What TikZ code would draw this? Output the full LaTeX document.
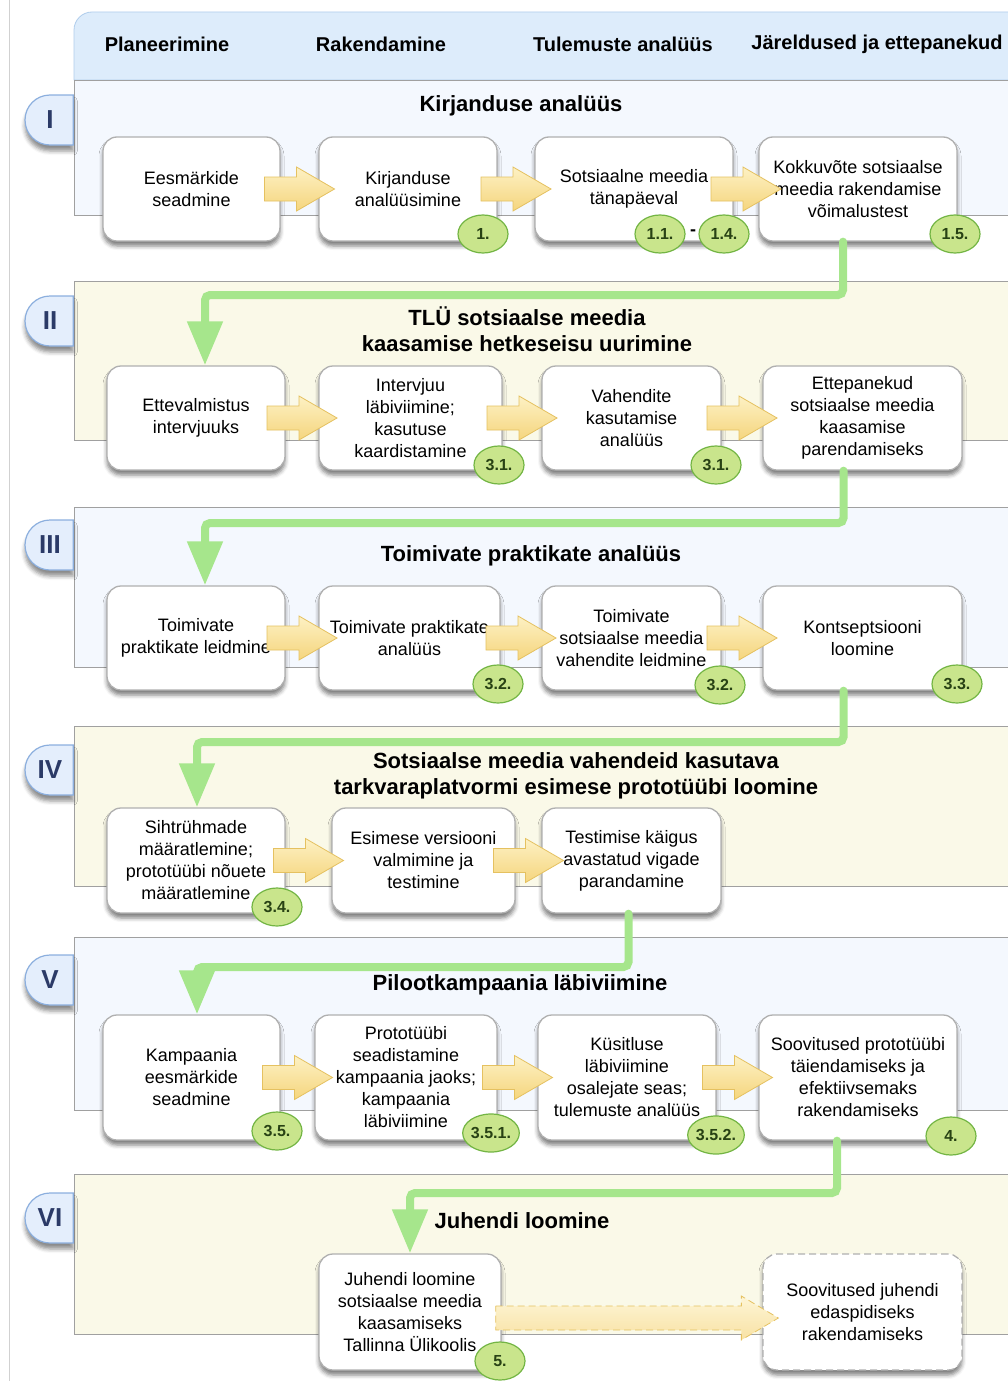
\documentclass[tikz,border=0pt]{standalone}
\usepackage{fontspec}
\setmainfont{Liberation Sans}
\usetikzlibrary{arrows.meta,shapes.geometric,shapes.misc,shadows.blur,calc}

\definecolor{laneblue}{RGB}{244,248,254}
\definecolor{laneyellow}{RGB}{250,249,232}
\definecolor{laneline}{RGB}{160,160,160}
\definecolor{headfill}{RGB}{221,236,251}
\definecolor{headline}{RGB}{176,205,236}
\definecolor{boxline}{RGB}{176,176,176}
\definecolor{badgefill}{RGB}{201,229,140}
\definecolor{badgeline}{RGB}{115,181,68}
\definecolor{badgetext}{RGB}{40,66,20}
\definecolor{tabfill}{RGB}{228,238,252}
\definecolor{tabline}{RGB}{140,175,222}
\definecolor{tabtext}{RGB}{43,58,103}
\definecolor{flowgreen}{RGB}{166,230,140}
\definecolor{arrtop}{RGB}{253,241,196}
\definecolor{arrbot}{RGB}{245,213,125}
\definecolor{arrline}{RGB}{229,193,96}

\tikzset{
  box/.style={draw=boxline, line width=1.3pt, fill=white, rounded corners=14pt,
    align=center, inner sep=2pt, minimum height=104pt,
    font=\fontsize{18}{22}\selectfont,
    blur shadow={shadow xshift=0pt, shadow yshift=-5pt, shadow blur radius=4pt, shadow opacity=50}},
  badge/.style={ellipse, draw=badgeline, line width=1.2pt, fill=badgefill,
    minimum width=50pt, minimum height=38pt, inner sep=0pt, text=badgetext,
    font=\fontsize{16}{16}\selectfont\bfseries},
  tab/.style={rounded rectangle, rounded rectangle east arc=none, draw=tabline,
    line width=1.2pt, fill=tabfill, minimum width=48pt, minimum height=50pt,
    text=tabtext, font=\fontsize{26}{26}\selectfont\bfseries,
    blur shadow={shadow xshift=0pt, shadow yshift=-6pt, shadow blur radius=4pt, shadow opacity=45}},
  lane/.style={draw=laneline, line width=0.8pt},
  lanetitle/.style={align=center, font=\fontsize{22}{26}\selectfont\bfseries},
  colhead/.style={font=\fontsize{20}{24}\selectfont\bfseries},
  flow/.style={draw=flowgreen, line width=8pt, rounded corners=5pt, line cap=round,
    -{Triangle[width=34pt,length=44pt]}},
  blockarr/.style={draw=arrline, line width=0.8pt, top color=arrtop, bottom color=arrbot}
}

\newcommand{\blockarrow}[2]{%
  \path[blockarr] let \p1=($(#1.east)!0.5!(#2.west)$) in
    (\x1-35pt,\y1+12pt) -- (\x1-3pt,\y1+12pt) -- (\x1-3pt,\y1+22pt) -- (\x1+35pt,\y1)
    -- (\x1-3pt,\y1-22pt) -- (\x1-3pt,\y1-12pt) -- (\x1-35pt,\y1-12pt) -- cycle;}

\begin{document}
\begin{tikzpicture}[x=1pt,y=-1pt]
	\useasboundingbox (0,0) rectangle (1008,1381);
	\clip (0,0) rectangle (1008,1381);
	\draw[draw=black!18, line width=1pt] (9,0) -- (9,1381);

	\draw[fill=headfill, draw=headline, line width=0.8pt] (74,80) -- (74,30) arc(180:270:18) -- (1030,12) -- (1030,80) -- cycle;
	\node[colhead] (h1) at (167,44) {Planeerimine};
	\node[colhead] (h2) at (381,44) {Rakendamine};
	\node[colhead] (h3) at (623,44) {Tulemuste analüüs};
	\node[colhead] (h4) at (877,44) {Järeldused ja ettepanekud};

	\draw[lane, fill=laneblue] (74,80) rectangle (1030,215);
	\draw[lane, fill=laneyellow] (74,281) rectangle (1030,440);
	\draw[lane, fill=laneblue] (74,507) rectangle (1030,667);
	\draw[lane, fill=laneyellow] (74,726) rectangle (1030,886);
	\draw[lane, fill=laneblue] (74,937) rectangle (1030,1110);
	\draw[lane, fill=laneyellow] (74,1174) rectangle (1030,1334);

	\node[tab] (t1) at (50,120) {I};
	\node[tab] (t2) at (50,321) {II};
	\node[tab] (t3) at (50,545) {III};
	\node[tab] (t4) at (50,770) {IV};
	\node[tab] (t5) at (50,980) {V};
	\node[tab] (t6) at (50,1218) {VI};

	\node[lanetitle] (l1) at (521,106) {Kirjanduse analüüs};
	\node[lanetitle] (l2) at (527,329) {TLÜ sotsiaalse meedia\\kaasamise hetkeseisu uurimine};
	\node[lanetitle] (l3) at (531,556) {Toimivate praktikate analüüs};
	\node[lanetitle] (l4) at (576,776) {Sotsiaalse meedia vahendeid kasutava\\tarkvaraplatvormi esimese prototüübi loomine};
	\node[lanetitle] (l5) at (520,985) {Pilootkampaania läbiviimine};
	\node[lanetitle] (l6) at (522,1221) {Juhendi loomine};

	\node[box, minimum width=177pt] (b11) at (191.5,189) {Eesmärkide\\seadmine};
	\node[box, minimum width=178pt] (b12) at (408,189) {Kirjanduse\\analüüsimine};
	\node[box, minimum width=198pt] (b13) at (634,189) {Sotsiaalne meedia\\tänapäeval};
	\node[box, minimum width=198pt] (b14) at (858,189) {Kokkuvõte sotsiaalse\\meedia rakendamise\\võimalustest};

	\node[box, minimum width=178pt] (b21) at (196,418) {Ettevalmistus\\intervjuuks};
	\node[box, minimum width=183pt] (b22) at (410.5,418) {Intervjuu\\läbiviimine;\\kasutuse\\kaardistamine};
	\node[box, minimum width=179pt] (b23) at (631.5,418) {Vahendite\\kasutamise\\analüüs};
	\node[box, minimum width=199pt] (b24) at (862.5,418) {Ettepanekud\\sotsiaalse meedia\\kaasamise\\parendamiseks};

	\node[box, minimum width=178pt] (b31) at (196,638) {Toimivate\\praktikate leidmine};
	\node[box, minimum width=181pt] (b32) at (409.5,638) {Toimivate praktikate\\analüüs};
	\node[box, minimum width=179pt] (b33) at (631.5,638) {Toimivate\\sotsiaalse meedia\\vahendite leidmine};
	\node[box, minimum width=199pt] (b34) at (862.5,638) {Kontseptsiooni\\loomine};

	\node[box, minimum width=178pt, minimum height=105pt] (b41) at (196,860.5) {Sihtrühmade\\määratlemine;\\prototüübi nõuete\\määratlemine};
	\node[box, minimum width=183pt, minimum height=105pt] (b42) at (423.5,860.5) {Esimese versiooni\\valmimine ja\\testimine};
	\node[box, minimum width=179pt, minimum height=105pt] (b43) at (631.5,860.5) {Testimise käigus\\avastatud vigade\\parandamine};

	\node[box, minimum width=177pt, minimum height=125pt] (b51) at (191.5,1077.5) {Kampaania\\eesmärkide\\seadmine};
	\node[box, minimum width=182pt, minimum height=125pt] (b52) at (406,1077.5) {Prototüübi\\seadistamine\\kampaania jaoks;\\kampaania\\läbiviimine};
	\node[box, minimum width=178pt, minimum height=125pt] (b53) at (627,1077.5) {Küsitluse\\läbiviimine\\osalejate seas;\\tulemuste analüüs};
	\node[box, minimum width=198pt, minimum height=125pt] (b54) at (858,1077.5) {Soovitused prototüübi\\täiendamiseks ja\\efektiivsemaks\\rakendamiseks};

	\node[box, minimum width=182pt, minimum height=116pt] (b61) at (410,1312) {Juhendi loomine\\sotsiaalse meedia\\kaasamiseks\\Tallinna Ülikoolis};
	\node[box, minimum width=199pt, minimum height=116pt, dash pattern=on 7pt off 4pt] (b62) at (862.5,1312) {Soovitused juhendi\\edaspidiseks\\rakendamiseks};

	\coordinate (j1) at (205,295);
	\coordinate (j2) at (205,523);
	\coordinate (j3) at (197,742);
	\coordinate (j4) at (197,967);
	\coordinate (j5) at (410,1193);
	\draw[flow] ([xshift=-15pt]b14.south) |- (j1) -- (j1 |- b21.north);
	\draw[flow] ([xshift=-19pt]b24.south) |- (j2) -- (j2 |- b31.north);
	\draw[flow] ([xshift=-19pt]b34.south) |- (j3) -- (j3 |- b41.north);
	\draw[flow] ([xshift=-3pt]b43.south) |- (j4) -- (j4 |- b51.north);
	\draw[flow] ([xshift=-21pt]b54.south) |- (j5) -- (j5 |- b61.north);

	\blockarrow{b11}{b12}
	\blockarrow{b12}{b13}
	\blockarrow{b13}{b14}
	\blockarrow{b21}{b22}
	\blockarrow{b22}{b23}
	\blockarrow{b23}{b24}
	\blockarrow{b31}{b32}
	\blockarrow{b32}{b33}
	\blockarrow{b33}{b34}
	\blockarrow{b41}{b42}
	\blockarrow{b42}{b43}
	\blockarrow{b51}{b52}
	\blockarrow{b52}{b53}
	\blockarrow{b53}{b54}
	\path[blockarr, dash pattern=on 7pt off 4pt, top color=arrtop!70!white, bottom color=arrbot!70!white] let \p1=([shift={(-6,6)}]b61.east), \p2=([shift={(16,6)}]b62.west) in
		(\x1,\y1+12pt) -- (\x2-37pt,\y1+12pt) -- (\x2-37pt,\y1+22pt) -- (\x2,\y1)
		-- (\x2-37pt,\y1-22pt) -- (\x2-37pt,\y1-12pt) -- (\x1,\y1-12pt) -- cycle;

	\node[badge] (n12) at (483,234) {1.};
	\node[badge] (n13a) at (660,234) {1.1.};
	\node[font=\fontsize{18}{18}\selectfont\bfseries] (hy13) at (693,233) {-};
	\node[badge] (n13b) at (724,234) {1.4.};
	\node[badge] (n14) at (955,234) {1.5.};
	\node[badge] (n22) at (499,465) {3.1.};
	\node[badge] (n23) at (716,465) {3.1.};
	\node[badge] (n32) at (498,684) {3.2.};
	\node[badge] (n33) at (720,685) {3.2.};
	\node[badge] (n34) at (957,684) {3.3.};
	\node[badge] (n41) at (277,907) {3.4.};
	\node[badge] (n51) at (277,1131) {3.5.};
	\node[badge] (n52) at (491,1133) {3.5.1.};
	\node[badge] (n53) at (716,1135) {3.5.2.};
	\node[badge] (n54) at (951,1136) {4.};
	\node[badge] (n61) at (500,1361) {5.};
\end{tikzpicture}
\end{document}
